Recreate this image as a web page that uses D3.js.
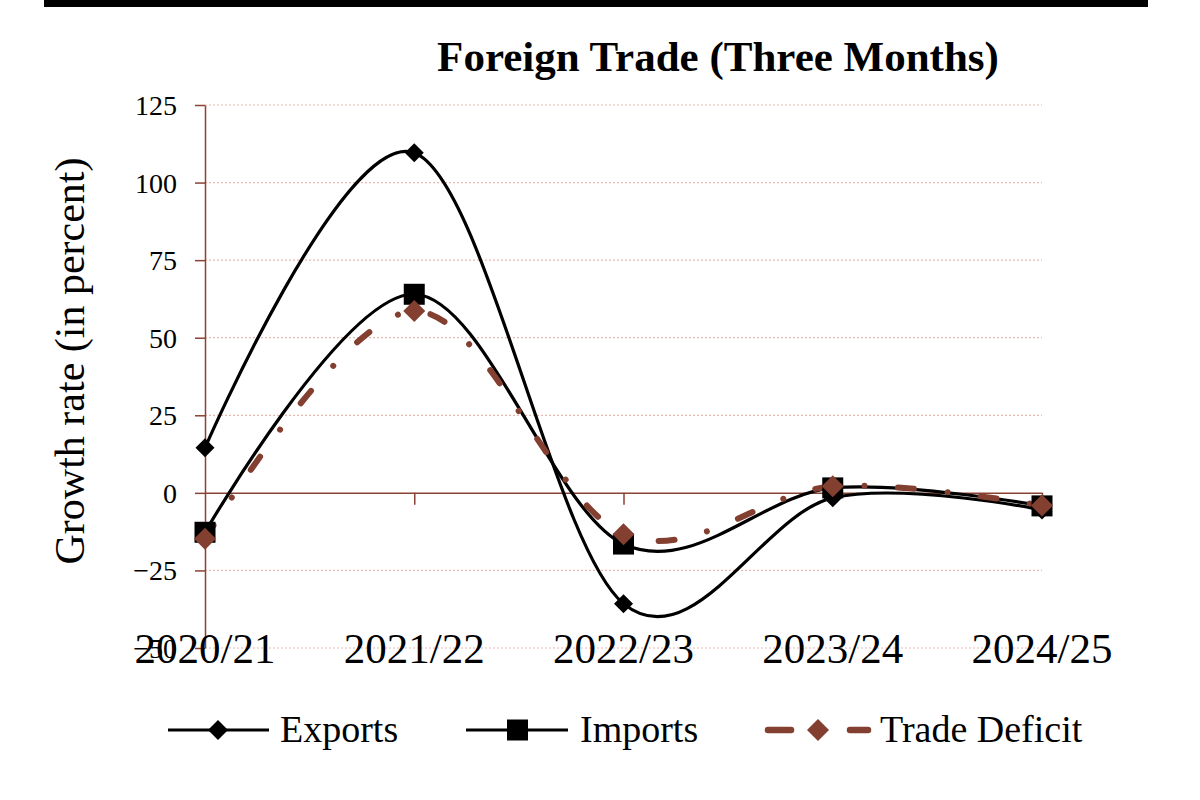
<!DOCTYPE html>
<html>
<head>
<meta charset="utf-8">
<script src="https://cdn.jsdelivr.net/npm/d3@7"></script>
<style>
  html, body { margin: 0; padding: 0; background: #fff; }
  svg { display: block; }
  text { font-family: "Liberation Serif", "Times New Roman", serif; }
</style>
</head>
<body>
<svg id="chart" width="1200" height="800"></svg>
<script>
const categories = ["2020/21", "2021/22", "2022/23", "2023/24", "2024/25"];
const exportsVals = [14.5, 109.6, -35.7, -1.6, -5.5];
const importsVals = [-12.7, 64.0, -16.5, 1.6, -4.2];
const deficitVals = [-14.8, 58.6, -13.3, 2.1, -4.1];
const yTicks = [-50, -25, 0, 25, 50, 75, 100, 125];
const seriesNames = ["Exports", "Imports", "Trade Deficit"];
const titleText = "Foreign Trade (Three Months)";
const yAxisTitle = "Growth rate (in percent)";

const svg = d3.select("#chart");
const axisColor = "#8a4234";
const gridColor = "#ecb8b0";
const deficitColor = "#833f30";

// top black bar
svg.append("rect").attr("x", 44).attr("y", 0).attr("width", 1104).attr("height", 7).attr("fill", "#000");

const x = d3.scalePoint().domain(categories).range([205, 1042]);
const y = d3.scaleLinear().domain([-50, 125]).range([648, 105]);

// gridlines
svg.append("g").selectAll("line").data(yTicks.filter(d => d !== 0)).join("line")
  .attr("x1", 205).attr("x2", 1042)
  .attr("y1", d => y(d)).attr("y2", d => y(d))
  .attr("stroke", gridColor).attr("stroke-width", 1.2).attr("stroke-dasharray", "2,2");

// y axis
const yAxis = d3.axisLeft(y).tickValues(yTicks).tickSize(10).tickSizeOuter(0).tickPadding(18);
const gy = svg.append("g").attr("transform", "translate(205,0)").call(yAxis);
gy.select(".domain").attr("stroke", axisColor).attr("stroke-width", 1.5);
gy.selectAll(".tick line").attr("stroke", axisColor).attr("stroke-width", 1.5);
gy.selectAll(".tick text").attr("font-family", "Liberation Serif").attr("font-size", 28).attr("fill", "#000")
  .attr("dy", "0.34em");

// zero line with category ticks
const gx = svg.append("g").attr("transform", `translate(0,${y(0)})`)
  .call(d3.axisBottom(x).tickSize(12).tickSizeOuter(0).tickFormat(""));
gx.select(".domain").attr("stroke", axisColor).attr("stroke-width", 1.5);
gx.selectAll(".tick line").attr("stroke", axisColor).attr("stroke-width", 1.5);
gx.selectAll(".tick").filter(d => d === categories[0]).remove();

// category labels at bottom
svg.append("g").selectAll("text").data(categories).join("text")
  .attr("x", d => x(d)).attr("y", 663)
  .attr("text-anchor", "middle").attr("font-size", 43).attr("fill", "#000")
  .text(d => d);

// title
svg.append("text").attr("x", 718).attr("y", 71).attr("text-anchor", "middle")
  .attr("font-size", 43).attr("font-weight", "bold").attr("fill", "#000").text(titleText);

// y axis title
svg.append("text").attr("transform", "translate(84,361) rotate(-90)")
  .attr("text-anchor", "middle").attr("font-size", 42).attr("fill", "#000").text(yAxisTitle);

const line = d3.line().x((d, i) => x(categories[i])).y(d => y(d)).curve(d3.curveCardinal.tension(0));

function diamond(g, cx, cy, r, fill) {
  g.append("path").attr("d", `M${cx},${cy - r}L${cx + r},${cy}L${cx},${cy + r}L${cx - r},${cy}Z`).attr("fill", fill);
}

// lines
svg.append("path").datum(exportsVals).attr("d", line).attr("fill", "none").attr("stroke", "#000").attr("stroke-width", 3.2);
svg.append("path").datum(importsVals).attr("d", line).attr("fill", "none").attr("stroke", "#000").attr("stroke-width", 3.2);
svg.append("path").datum(deficitVals).attr("d", line).attr("fill", "none").attr("stroke", deficitColor)
  .attr("stroke-width", 6).attr("stroke-linecap", "round").attr("stroke-dasharray", "16,33.5,0.01,33.5");

// markers
const mk = svg.append("g");
exportsVals.forEach((v, i) => diamond(mk, x(categories[i]), y(v), 9.5, "#000"));
importsVals.forEach((v, i) => mk.append("rect").attr("x", x(categories[i]) - 10.5).attr("y", y(v) - 10.5)
  .attr("width", 21).attr("height", 21).attr("fill", "#000"));
deficitVals.forEach((v, i) => diamond(mk, x(categories[i]), y(v), 11, deficitColor));

// legend
const lg = svg.append("g");
const ly = 730;
// Exports
lg.append("line").attr("x1", 168).attr("x2", 269).attr("y1", ly).attr("y2", ly).attr("stroke", "#000").attr("stroke-width", 3.2);
diamond(lg, 218, ly, 10, "#000");
lg.append("text").attr("x", 280).attr("y", 742).attr("font-size", 38).attr("fill", "#000").text(seriesNames[0]);
// Imports
lg.append("line").attr("x1", 466).attr("x2", 568).attr("y1", ly).attr("y2", ly).attr("stroke", "#000").attr("stroke-width", 3.2);
lg.append("rect").attr("x", 507).attr("y", ly - 10.5).attr("width", 21).attr("height", 21).attr("fill", "#000");
lg.append("text").attr("x", 580).attr("y", 742).attr("font-size", 38).attr("fill", "#000").text(seriesNames[1]);
// Trade Deficit
lg.append("line").attr("x1", 768).attr("x2", 791).attr("y1", ly).attr("y2", ly).attr("stroke", deficitColor)
  .attr("stroke-width", 6.5).attr("stroke-linecap", "round");
lg.append("line").attr("x1", 850).attr("x2", 868).attr("y1", ly).attr("y2", ly).attr("stroke", deficitColor)
  .attr("stroke-width", 6.5).attr("stroke-linecap", "round");
diamond(lg, 818, ly, 11, deficitColor);
lg.append("text").attr("x", 880).attr("y", 742).attr("font-size", 38).attr("fill", "#000").text(seriesNames[2]);
</script>
</body>
</html>
